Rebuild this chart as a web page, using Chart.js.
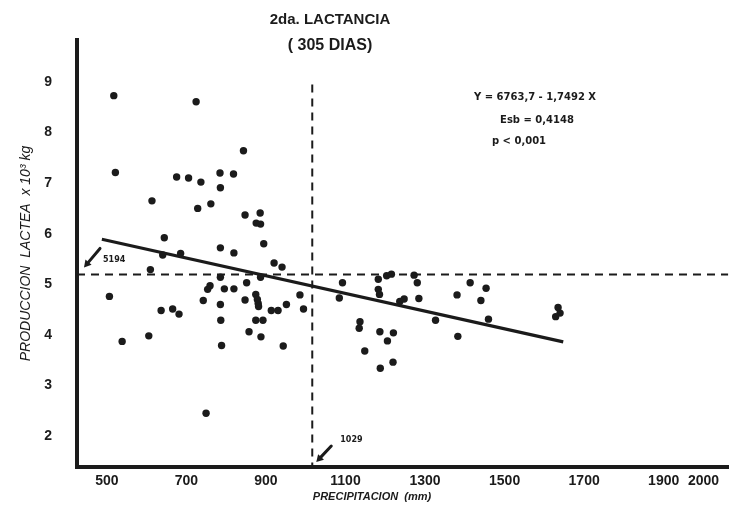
<!DOCTYPE html>
<html><head><meta charset="utf-8">
<script src="https://cdn.jsdelivr.net/npm/chart.js@4.4.1/dist/chart.umd.min.js"></script>
<style>html,body{margin:0;padding:0;background:#fff;overflow:hidden}</style>
</head><body>
<canvas id="c" width="732" height="506" style="display:block;width:732px;height:506px"></canvas>
<script>
// ---- data ----
const precipitation = [530,534,737,856,688,718,749,797,831,798,626,741,774,860,898,888,899,657,653,698,798,832,907,933,953,622,798,772,766,808,832,864,899,755,798,860,887,891,893,894,998,964,1007,519,649,678,694,926,943,799,887,905,870,900,618,551,801,956,762,1105,1097,1195,1216,1228,1285,1293,1195,1198,1249,1260,1297,1149,1147,1199,1233,1218,1161,1200,1232,1339,1393,1426,1466,1453,1472,1395,1647,1652,1641];
const production = [8.73,7.21,8.61,7.64,7.12,7.10,7.02,7.20,7.18,6.91,6.65,6.50,6.59,6.37,6.41,6.21,6.19,5.92,5.58,5.61,5.72,5.62,5.80,5.42,5.34,5.29,5.14,4.97,4.90,4.91,4.91,5.03,5.14,4.68,4.60,4.69,4.80,4.70,4.62,4.56,4.79,4.60,4.51,4.76,4.48,4.51,4.41,4.48,4.48,4.29,4.29,4.29,4.06,3.96,3.98,3.87,3.79,3.78,2.45,5.03,4.73,5.10,5.17,5.20,5.18,5.03,4.90,4.80,4.66,4.71,4.72,4.26,4.13,4.06,4.04,3.88,3.68,3.34,3.46,4.29,4.79,5.03,4.92,4.68,4.31,3.97,4.54,4.43,4.36];
const regressionX = [500, 1660];
const regressionY = [5.89, 3.86];
const meanProduction = 5.194;   // 5194 kg
const meanPrecipitation = 1029; // 1029 mm
const xTicks = [500,700,900,1100,1300,1500,1700,1900,2000];
const yTicks = [2,3,4,5,6,7,8,9];
const titleLines = ['2da. LACTANCIA', '( 305 DIAS)'];
const statLines = ['Y = 6763,7 - 1,7492 X', 'Esb = 0,4148', 'p < 0,001'];
const yTitle = 'PRODUCCION  LACTEA  x 10\u00B3 kg';
const xTitle = 'PRECIPITACION  (mm)';
const meanLabels = ['5194', '1029'];

const X_MIN = 437.5, X_MAX = 2075, Y_MIN = 1.387, Y_MAX = 9.83;
const ink = '#1b1b1b';

function arrow(ctx, x0, y0, x1, y1) {
  const a = Math.atan2(y1 - y0, x1 - x0);
  const hl = 7, hw = 4;
  const bx = x1 - hl * Math.cos(a), by = y1 - hl * Math.sin(a);
  ctx.lineWidth = 3; ctx.lineCap = 'round';
  ctx.beginPath(); ctx.moveTo(x0, y0); ctx.lineTo(bx, by); ctx.stroke();
  ctx.beginPath();
  ctx.moveTo(x1, y1);
  ctx.lineTo(bx + hw * Math.sin(a), by - hw * Math.cos(a));
  ctx.lineTo(bx - hw * Math.sin(a), by + hw * Math.cos(a));
  ctx.closePath(); ctx.fill();
}

const annotations = {
  id: 'annotations',
  afterDraw(chart) {
    const {ctx, scales: {x, y}, chartArea} = chart;
    ctx.save();
    ctx.fillStyle = ink; ctx.strokeStyle = ink;
    ctx.textAlign = 'center'; ctx.textBaseline = 'middle';
    ctx.font = 'bold 15px "Liberation Sans"';
    ctx.fillText(titleLines[0], 330, 20);
    ctx.font = 'bold 16px "Liberation Sans"';
    ctx.fillText(titleLines[1], 330, 46);
    ctx.font = 'bold 10px "DejaVu Sans"';
    ctx.fillText(statLines[0], 535, 97);
    ctx.fillText(statLines[1], 537, 120);
    ctx.fillText(statLines[2], 519, 141);
    ctx.font = 'italic bold 11px "Liberation Sans"';
    ctx.fillText(xTitle, 372, 497);
    // arrows pointing to the means
    const ym = y.getPixelForValue(meanProduction);
    const xm = x.getPixelForValue(meanPrecipitation);
    arrow(ctx, chartArea.left + 23, ym - 26, chartArea.left + 7, ym - 7);
    arrow(ctx, xm + 19, chartArea.bottom - 21, xm + 4, chartArea.bottom - 5);
    ctx.font = 'bold 8px "DejaVu Sans"';
    ctx.textAlign = 'left';
    ctx.fillText(meanLabels[0], chartArea.left + 26, ym - 15);
    ctx.fillText(meanLabels[1], xm + 28, chartArea.bottom - 27);
    ctx.restore();
  }
};

const dashed = [8, 6];
new Chart(document.getElementById('c'), {
  type: 'scatter',
  data: {
    datasets: [
      {
        data: precipitation.map((v, i) => ({x: v, y: production[i]})),
        pointRadius: 3.7, pointHoverRadius: 3.7,
        backgroundColor: ink, borderWidth: 0
      },
      {
        data: regressionX.map((v, i) => ({x: v, y: regressionY[i]})),
        showLine: true, borderColor: ink, borderWidth: 3.2, pointRadius: 0
      },
      {
        data: [{x: X_MIN, y: meanProduction}, {x: X_MAX, y: meanProduction}],
        showLine: true, borderColor: ink, borderWidth: 2, borderDash: dashed, pointRadius: 0
      },
      {
        data: [{x: meanPrecipitation, y: 8.95}, {x: meanPrecipitation, y: Y_MIN}],
        showLine: true, borderColor: ink, borderWidth: 2, borderDash: dashed, pointRadius: 0
      }
    ]
  },
  options: {
    responsive: false, animation: false, devicePixelRatio: 1,
    layout: {padding: {top: 40, right: 0, left: 0, bottom: 0}},
    plugins: {legend: {display: false}, tooltip: {enabled: false}, title: {display: false}},
    scales: {
      x: {
        type: 'linear', min: X_MIN, max: X_MAX,
        afterBuildTicks: s => { s.ticks = xTicks.map(v => ({value: v})); },
        afterFit: s => { s.height = 39; },
        grid: {display: false, drawTicks: false},
        border: {display: true, color: ink, width: 4},
        ticks: {padding: 6, labelOffset: 5, color: ink, font: {family: 'Liberation Sans', weight: 'bold', size: 14}, maxRotation: 0, autoSkip: false, callback: v => String(v)}
      },
      y: {
        type: 'linear', min: Y_MIN, max: Y_MAX,
        afterBuildTicks: s => { s.ticks = yTicks.map(v => ({value: v})); },
        afterFit: s => { s.width = 77; },
        grid: {display: false, drawTicks: false},
        border: {display: true, color: ink, width: 4},
        ticks: {padding: 25, color: ink, font: {family: 'Liberation Sans', weight: 'bold', size: 14}, callback: v => String(v)},
        title: {display: true, text: yTitle, color: ink, padding: {top: 18, bottom: 0}, font: {family: 'Liberation Sans', style: 'italic', size: 14}}
      }
    }
  },
  plugins: [annotations]
});
</script>
</body></html>
